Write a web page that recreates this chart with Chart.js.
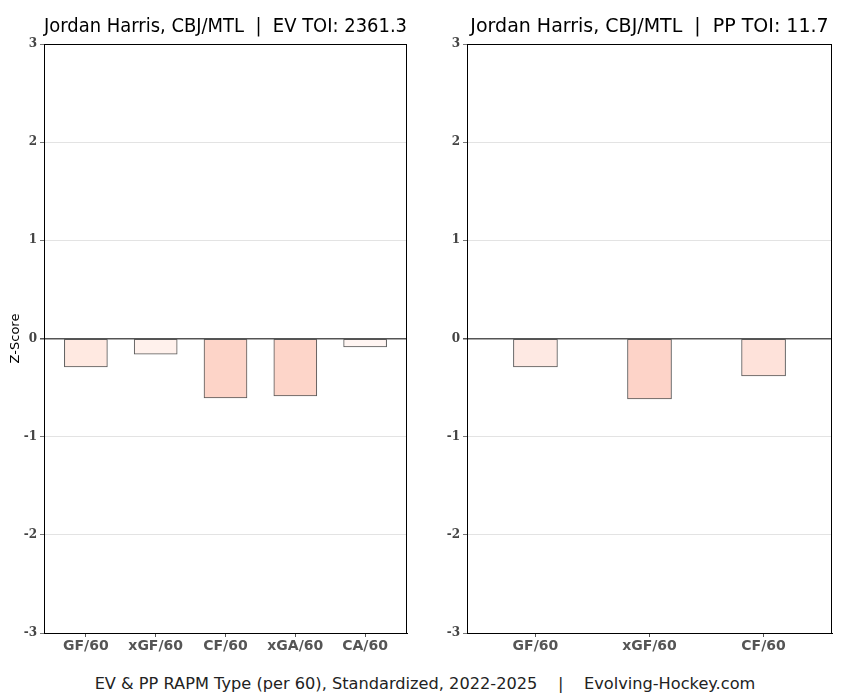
<!DOCTYPE html>
<html>
<head>
<meta charset="utf-8">
<script src="https://cdn.jsdelivr.net/npm/chart.js@4"></script>
<style>
  body { margin: 0; background: #fff; width: 850px; height: 700px; position: relative; overflow: hidden; }
  .wrap { position: absolute; top: 0; width: 425px; height: 665px; }
  #footer { position: absolute; left: 0; width: 850px; top: 674px; text-align: center;
            font-family: 'DejaVu Sans', sans-serif; font-size: 16.2px; color: #222; white-space: pre; }
</style>
</head>
<body>
<div class="wrap" style="left:0"><canvas id="ev" width="425" height="665"></canvas></div>
<div class="wrap" style="left:425px"><canvas id="pp" width="425" height="665"></canvas></div>
<div id="footer">EV &amp; PP RAPM Type (per 60), Standardized, 2022-2025    |    Evolving-Hockey.com</div>
<script>
const evLabels = ['GF/60', 'xGF/60', 'CF/60', 'xGA/60', 'CA/60']
const evValues = [-0.29, -0.16, -0.605, -0.585, -0.087]
const evColors = ['#ffe9e1', '#fff1ec', '#fdd4c8', '#fdd5c9', '#fff5f2']

const ppLabels = ['GF/60', 'xGF/60', 'CF/60']
const ppValues = [-0.29, -0.615, -0.38]
const ppColors = ['#fee9e3', '#fdd3c8', '#fee2da']

const yTicks = [-3, -2, -1, 0, 1, 2, 3]

Chart.defaults.font.family = 'DejaVu Sans'
Chart.defaults.animation = false

// black frame round the plot area
const frame = {
    id: 'frame',
    afterDraw(chart) {
        const a = chart.chartArea
        const c = chart.ctx
        c.save()
        c.strokeStyle = '#000'
        c.lineWidth = 1
        c.strokeRect(a.left + 0.5, a.top + 0.5, a.right - a.left - 1, a.bottom - a.top)
        c.restore()
    }
}

function makeChart(id, title, labels, values, colors, yWidth, yTitle, barPx) {
    const pts = labels.map((l, i) => ({ x: i + 1, y: values[i] }))
    return new Chart(document.getElementById(id), {
        type: 'bar',
        data: {
            datasets: [{
                data: pts,
                backgroundColor: colors,
                borderColor: '#555',
                borderWidth: 1,
                borderSkipped: false,
                barThickness: barPx
            }]
        },
        plugins: [frame],
        options: {
            responsive: false,
            layout: { padding: { right: 18, left: 0, top: 0, bottom: 0 } },
            plugins: {
                legend: { display: false },
                tooltip: { enabled: false },
                title: {
                    display: true,
                    text: title,
                    fullSize: false,
                    color: '#000',
                    font: { size: 19, weight: 'normal' },
                    padding: { top: 15.5, bottom: 5.7 }
                }
            },
            scales: {
                x: {
                    type: 'linear',
                    offset: false,
                    min: 0.4,
                    max: labels.length + 0.6,
                    afterBuildTicks: s => { s.ticks = labels.map((l, i) => ({ value: i + 1 })) },
                    afterFit: s => { s.height = 32 },
                    grid: { offset: false, drawOnChartArea: false, drawTicks: true, tickLength: 4, tickColor: '#555' },
                    border: { color: '#000' },
                    ticks: {
                        callback: v => labels[v - 1],
                        color: '#555',
                        padding: 1,
                        autoSkip: false,
                        maxRotation: 0,
                        font: { size: 14, weight: 'bold' }
                    }
                },
                y: {
                    min: -3,
                    max: 3,
                    afterBuildTicks: s => { s.ticks = yTicks.map(v => ({ value: v })) },
                    afterFit: s => { s.width = yWidth },
                    grid: {
                        color: c => c.tick && c.tick.value === 0 ? '#555' : '#dcdcdc',
                        lineWidth: c => c.tick && c.tick.value === 0 ? 1.5 : 0.8,
                        tickLength: 4,
                        tickColor: '#555'
                    },
                    border: { color: '#000' },
                    title: {
                        display: !!yTitle,
                        text: yTitle,
                        color: '#000',
                        font: { size: 13 },
                        padding: { top: 7.5, bottom: 0 }
                    },
                    ticks: {
                        color: '#444',
                        padding: 3,
                        font: { family: 'DejaVu Serif', size: 12, weight: 'bold' }
                    }
                }
            }
        }
    })
}

makeChart('ev', 'Jordan Harris, CBJ/MTL  |  EV TOI: 2361.3', evLabels, evValues, evColors, 44, 'Z-Score', 43)
makeChart('pp', 'Jordan Harris, CBJ/MTL  |  PP TOI: 11.7', ppLabels, ppValues, ppColors, 42, '', 44)
</script>
</body>
</html>
